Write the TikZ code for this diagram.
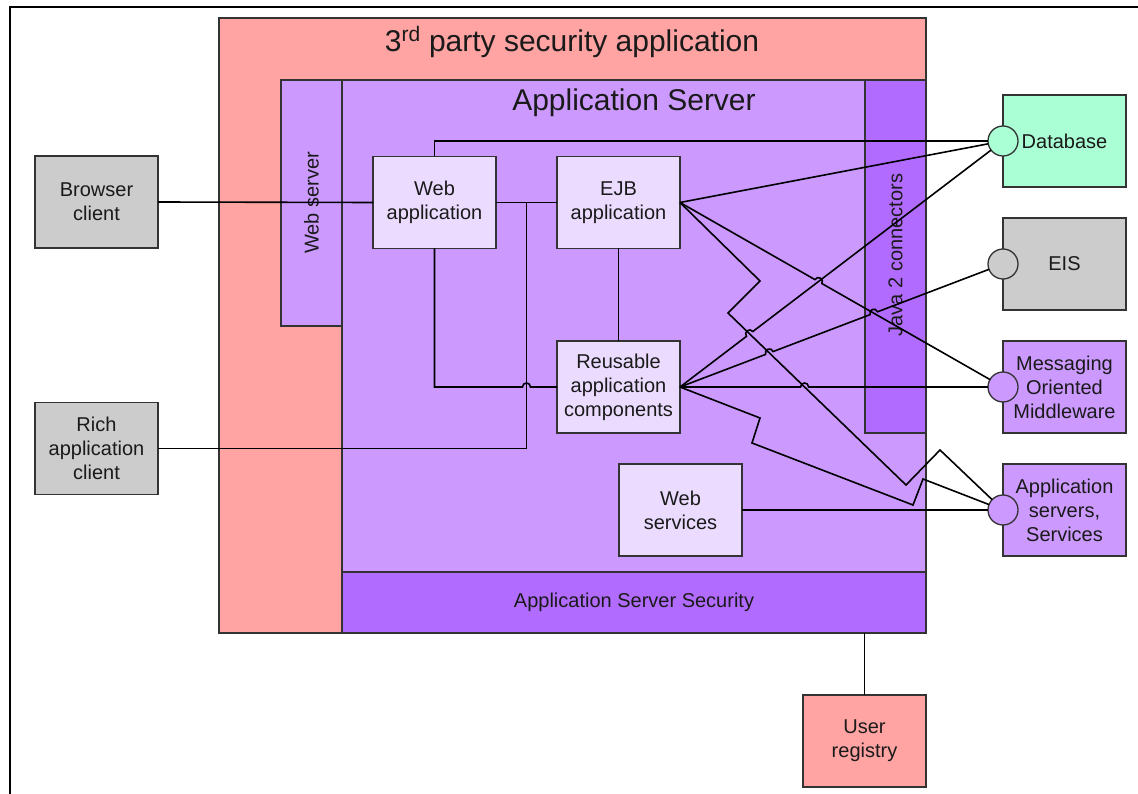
\documentclass[tikz,border=0pt]{standalone}
\usepackage{fontspec}
\setmainfont{Liberation Sans}
\usetikzlibrary{calc}
\definecolor{pinkc}{HTML}{FFA3A3}
\definecolor{purl}{HTML}{CC99FF}
\definecolor{purd}{HTML}{B26BFF}
\definecolor{lav}{HTML}{EBDCFF}
\definecolor{mint}{HTML}{AAFFD5}
\definecolor{grayc}{HTML}{CCCCCC}
\definecolor{edgec}{HTML}{333333}
\definecolor{txt}{HTML}{1A1A1A}
\begin{document}
\begin{tikzpicture}[x=1pt,y=-1pt,
  every node/.style={inner sep=0pt, outer sep=0pt, text=txt},
  zone/.style={draw=edgec, line width=1.3pt, rectangle},
  cbox/.style={draw=edgec, line width=1.3pt, rectangle, minimum width=123pt, minimum height=92pt, align=center, font=\fontsize{20}{24}\selectfont},
  portc/.style={circle, draw=edgec, line width=1.3pt, minimum size=30pt},
  lbl/.style={font=\fontsize{20}{24}\selectfont, align=center},
  bigt/.style={font=\fontsize{30}{36}\selectfont},
  wire/.style={draw=black, line width=1.6pt},
  hopc/.style={bend left=90, looseness=1.7}]
\useasboundingbox (0,0) rectangle (1138,794);
\fill[white] (0,0) rectangle (1138,794);
\draw[line width=1.5pt] (10,794) -- (10,7) -- (1138,7);

% containers
\node[zone, fill=pinkc, minimum width=707pt, minimum height=615pt] (tp) at (572.5,325.5) {};
\node[zone, fill=purl, minimum width=61pt, minimum height=246pt] (wsc) at (311.5,203) {};
\node[zone, fill=purl, minimum width=584pt, minimum height=553pt] (asb) at (634,356.5) {};
\node[zone, fill=purd, minimum width=584pt, minimum height=61pt] (sec) at (634,602.5) {};
\node[zone, fill=purd, minimum width=61pt, minimum height=353pt] (j2c) at (895.5,256.5) {};

\node[bigt] (tpl) at (572,42) {3\textsuperscript{rd} party security application};
\node[bigt] (asl) at (634,103) {Application Server};
\node[lbl] (secl) at (sec) {Application Server Security};
\node[lbl, rotate=90] (wsl) at (wsc) {Web server};
\node[lbl, rotate=90] (j2l) at (895.5,255) {Java 2 connectors};

% components
\node[cbox, fill=grayc] (bc) at (96.5,202) {Browser\\client};
\node[cbox, fill=grayc] (ra) at (96.5,448.5) {Rich\\application\\client};
\node[cbox, fill=lav] (wa) at (434.5,202.5) {Web\\application};
\node[cbox, fill=lav] (ejb) at (618.5,202.5) {EJB\\application};
\node[cbox, fill=lav] (reu) at (618.5,387) {Reusable\\application\\components};
\node[cbox, fill=lav] (wsv) at (680.5,510) {Web\\services};
\node[cbox, fill=mint] (db) at (1064.5,141) {Database};
\node[cbox, fill=grayc] (eis) at (1064.5,264) {EIS};
\node[cbox, fill=purl] (mom) at (1064.5,387) {Messaging\\Oriented\\Middleware};
\node[cbox, fill=purl] (asv) at (1064.5,510) {Application\\servers,\\Services};
\node[cbox, fill=pinkc] (ur) at (864.5,741) {User\\registry};

% helper coordinates
\coordinate (Dc) at (1003,141);
\coordinate (Ec) at (1003,264);
\coordinate (Mc) at (1003,387);
\coordinate (Ac) at (1003,510);
\coordinate (Ee) at (ejb.east);
\coordinate (Re) at (reu.east);
\coordinate (mj) at ($(wa.east)!0.5!(ejb.west)$);
\coordinate (wr) at (wa.south |- reu.west);
\coordinate (hp1) at (mj |- reu.west);
\coordinate (z1) at (760,281);
\coordinate (z2) at (728,313);
\coordinate (z3) at (906,485);
\coordinate (z4) at (940,450);
\coordinate (y1) at (760,418);
\coordinate (y2) at (752,443);
\coordinate (y3) at (913,505);
\coordinate (y4) at (923,479);
\coordinate (h2) at (intersection of Ee--Mc and Re--Dc);
\coordinate (h3) at (intersection of Re--Dc and z2--z3);
\coordinate (h4) at (intersection of Re--Ec and z2--z3);
\coordinate (h5) at (intersection of Re--Mc and z2--z3);
\coordinate (h6) at (intersection of Re--Ec and Ee--Mc);

% ports
\node[portc, fill=mint] (dbc) at (Dc) {};
\node[portc, fill=grayc] (eisc) at (Ec) {};
\node[portc, fill=purl] (momc) at (Mc) {};
\node[portc, fill=purl] (asc) at (Ac) {};

% connectors
\draw[wire] (bc.east) -- (wa.west);
\draw[wire] (wa.east) -- (ejb.west);
\draw[wire] (ejb.south) -- (reu.north);
\draw[wire] (wa.north) |- (dbc.west);
\draw[wire] (ra.east) -| (mj);
\draw[wire] (wa.south) -- (wr) -- ($(hp1)!4pt!(wr)$) to[hopc] ($(hp1)!4pt!(reu.west)$) -- (reu.west);
\draw[wire] (Ee) -- (dbc);
\draw[wire] (Ee) -- ($(h2)!4pt!(Ee)$) to[hopc] ($(h2)!4pt!(Mc)$) -- (momc);
\draw[wire] (Ee) -- (z1) -- (z2) -- (z3) -- (z4) -- (asc);
\draw[wire] (Re) -- ($(h3)!4pt!(Re)$) to[hopc] ($(h3)!4pt!(Dc)$) -- (dbc);
\draw[wire] (Re) -- ($(h4)!4pt!(Re)$) to[hopc] ($(h4)!4pt!(Ec)$) -- ($(h6)!4pt!(Re)$) to[hopc] ($(h6)!4pt!(Ec)$) -- (eisc);
\draw[wire] (Re) -- ($(h5)!4pt!(Re)$) to[hopc] ($(h5)!4pt!(Mc)$) -- (momc);
\draw[wire] (Re) -- (y1) -- (y2) -- (y3) -- (y4) -- (asc);
\draw[wire] (wsv.east) -- (asc);
\draw[wire] (ur.north) -- (ur.north |- sec.south);
\end{tikzpicture}
\end{document}
